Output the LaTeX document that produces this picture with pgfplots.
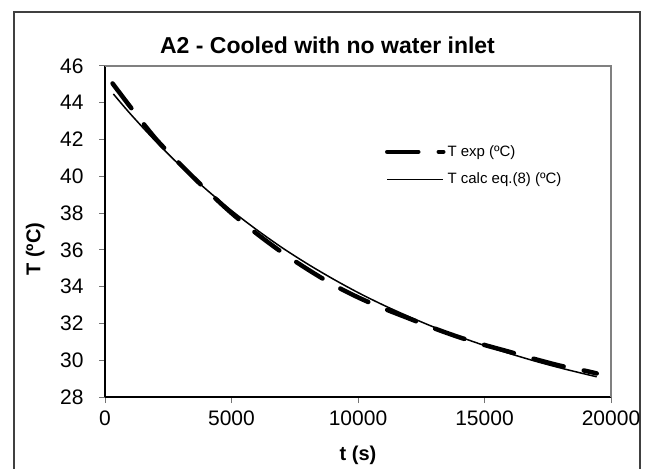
\documentclass[border=0pt]{standalone}
\usepackage{fontspec}
\setmainfont{Liberation Sans}
\usepackage{pgfplots}
\pgfplotsset{compat=1.18}
\begin{document}
\begin{tikzpicture}[x=1pt,y=1pt]
\useasboundingbox (0,0) rectangle (652,468);
\draw[line width=2pt, draw=black!75] (14,-5) -- (14,456) -- (640,456) -- (640,-5);
\node[font=\fontsize{23}{26}\selectfont\bfseries] at (327.5,423) {A2 - Cooled with no water inlet};
\begin{axis}[
  at={(105pt,71pt)}, anchor=south west, scale only axis,
  width=506pt, height=331pt,
  xmin=0, xmax=20000, ymin=28, ymax=46,
  xtick={0,5000,10000,15000,20000}, ytick={28,30,...,46},
  axis lines=left, axis line style={-, line width=1.2pt, black},
  tick align=outside, major tick length=6pt,
  tick style={line width=1pt, black!55},
  ticklabel style={font=\fontsize{21}{24}\selectfont},
  xticklabel style={yshift=-4pt, /pgf/number format/1000 sep={}},
  yticklabel style={xshift=-12pt},
  /pgf/number format/assume math mode=true,
  scaled x ticks=false,
  xlabel={t (s)}, ylabel={T (ºC)},
  label style={font=\fontsize{20}{24}\selectfont\bfseries},
  x label style={at={(axis description cs:0.5,-0.175)}, anchor=center},
  y label style={at={(axis description cs:-0.138,0.447)}, anchor=center},
  legend cell align=left,
  legend style={at={(axis description cs:0.553,0.699)}, anchor=west,
    draw=none, fill=none, font=\fontsize{15}{18}\selectfont,
    row sep=11pt, inner sep=0pt},
  legend image code/.code={\draw[#1] (0pt,0pt) -- (56pt,0pt);},
  after end axis/.code={\draw[black!50, line width=1.2pt] (rel axis cs:0,1) -- (rel axis cs:1,1) -- (rel axis cs:1,0);},
]
\addplot[black, line width=4.5pt, dash pattern=on 31pt off 20.5pt, line cap=round, smooth] coordinates {
(300,45.05) (1000,43.78) (2000,42.05) (3000,40.62) (4000,39.27) (5000,38.00)
(6000,36.88) (7000,35.86) (8000,34.95) (9000,34.12) (10000,33.42) (11000,32.82)
(12000,32.28) (13000,31.74) (14000,31.25) (15000,30.83) (16000,30.45) (17000,30.06)
(18000,29.70) (19000,29.42) (19435,29.28)
};
\addlegendentry{T exp (ºC)}
\addplot[black, line width=1.5pt, smooth] coordinates {
(330,44.48) (1000,43.40) (2000,41.91) (3000,40.54) (4000,39.29) (5000,38.14)
(6000,37.09) (7000,36.12) (8000,35.24) (9000,34.43) (10000,33.68) (11000,33.00)
(12000,32.38) (13000,31.80) (14000,31.28) (15000,30.80) (16000,30.36) (17000,29.95)
(18000,29.58) (19000,29.24) (19435,29.10)
};
\addlegendentry{T calc eq.(8) (ºC)}
\end{axis}
\end{tikzpicture}
\end{document}
